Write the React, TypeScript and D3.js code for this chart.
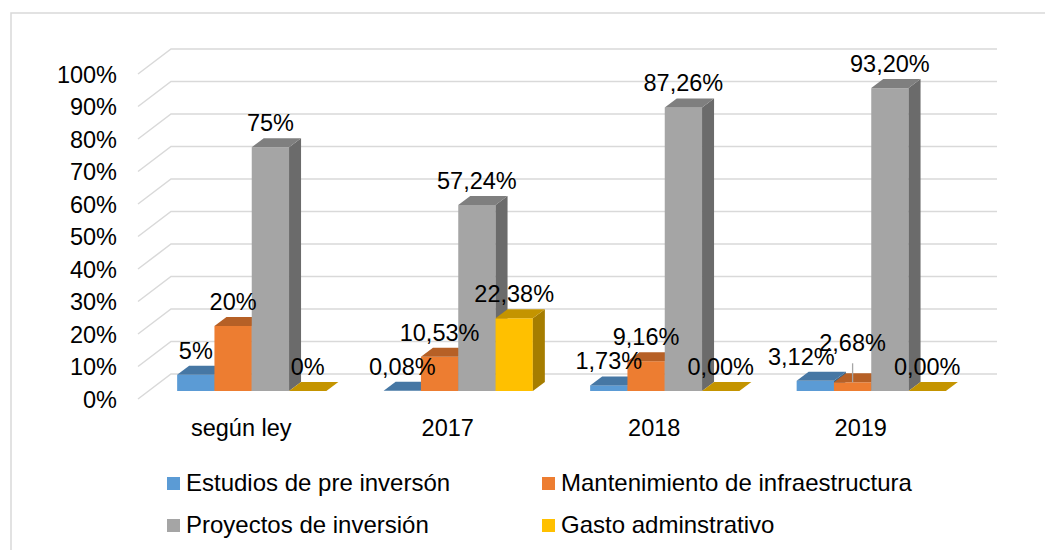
import React from "react";
import * as d3 from "d3";

const categories = ["según ley", "2017", "2018", "2019"];
const seriesNames = [
  "Estudios de pre inversón",
  "Mantenimiento de infraestructura",
  "Proyectos de inversión",
  "Gasto adminstrativo",
];
const estudios = [0.05, 0.0008, 0.0173, 0.0312];
const mantenimiento = [0.2, 0.1053, 0.0916, 0.0268];
const proyectos = [0.75, 0.5724, 0.8726, 0.932];
const gasto = [0, 0.2238, 0, 0];
const yTicks = [0, 0.1, 0.2, 0.3, 0.4, 0.5, 0.6, 0.7, 0.8, 0.9, 1.0];

const seriesValues = [estudios, mantenimiento, proyectos, gasto];
const colors = [
  { front: "#5B9BD5", top: "#4677A4", side: "#3B658A" },
  { front: "#ED7D31", top: "#B66026", side: "#9A5120" },
  { front: "#A5A5A5", top: "#7F7F7F", side: "#6B6B6B" },
  { front: "#FFC000", top: "#C49400", side: "#A67D00" },
];

// manual label adjustments (layout only): key `${series}-${category}`
const labelShift: Record<string, { dx: number; dy: number; leader?: boolean }> = {
  "0-3": { dx: -14, dy: 0 },
  "1-3": { dx: 0, dy: -15, leader: true },
};

const FONT = "'Liberation Sans', Arial, Helvetica, sans-serif";
const FS = 23.5;
const LEG_FS = 24;

const locale = d3.formatLocale({
  decimal: ",",
  thousands: ".",
  grouping: [3],
  currency: ["", ""],
});
const fmtInt = locale.format(".0%");
const fmtDec = locale.format(".2%");

export default function App() {
  const W = 1045;
  const H = 550;
  const x0 = 138;
  const x1 = 964;
  const wallDx = 33;
  const wallDy = -25;
  const barDepthX = 12;
  const barDepthY = 9;
  const offX = (wallDx - barDepthX) / 2;
  const offY = (wallDy + barDepthY) / 2;

  const y = d3.scaleLinear().domain([0, 1]).range([399, 74]);
  const xCat = d3.scaleBand<string>().domain(categories).range([x0, x1]).padding(0);
  const bw = xCat.bandwidth();
  const groupPad = 28.65;
  const xSer = d3
    .scaleBand<number>()
    .domain(d3.range(seriesValues.length))
    .range([groupPad, bw - groupPad])
    .padding(0);
  const barW = xSer.bandwidth();

  const bars: React.ReactNode[] = [];
  const labels: React.ReactNode[] = [];

  categories.forEach((cat, ci) => {
    seriesValues.forEach((vals, si) => {
      const v = vals[ci];
      const xl = (xCat(cat) as number) + (xSer(si) as number) + offX;
      const xr = xl + barW;
      const yb = y(0) + offY;
      const yt = y(v) + offY;
      const c = colors[si];
      const key = `${si}-${ci}`;
      const h = yb - yt;
      if (h > 0.5) {
        bars.push(
          <rect key={key + "f"} x={xl} y={yt} width={barW} height={h} fill={c.front} />
        );
        bars.push(
          <path
            key={key + "s"}
            d={`M${xr},${yt}L${xr + barDepthX},${yt - barDepthY}L${xr + barDepthX},${yb - barDepthY}L${xr},${yb}Z`}
            fill={c.side}
          />
        );
      }
      bars.push(
        <path
          key={key + "t"}
          d={`M${xl},${yt}L${xl + barDepthX},${yt - barDepthY}L${xr + barDepthX},${yt - barDepthY}L${xr},${yt}Z`}
          fill={c.top}
        />
      );
      const sh = labelShift[key] || { dx: 0, dy: 0 };
      const lx = (xl + xr) / 2 + sh.dx;
      const ly = yt - 16 + sh.dy;
      const txt = ci === 0 ? fmtInt(v) : fmtDec(v);
      if (sh.leader) {
        labels.push(
          <line
            key={key + "ld"}
            x1={(xl + xr) / 2}
            x2={(xl + xr) / 2}
            y1={ly + 12}
            y2={yt}
            stroke="#A6A6A6"
            strokeWidth={1.3}
          />
        );
      }
      labels.push(
        <text key={key + "l"} x={lx} y={ly} textAnchor="middle" fontSize={FS} fill="#000">
          {txt}
        </text>
      );
    });
  });

  const legendPos = [
    { x: 167, y: 477 },
    { x: 542, y: 477 },
    { x: 167, y: 519 },
    { x: 542, y: 519 },
  ];

  return (
    <svg
      width={W}
      height={H}
      style={{ position: "absolute", left: 0, top: 0, display: "block", background: "#fff" }}
      fontFamily={FONT}
    >
      <rect x={0} y={0} width={W} height={H} fill="#fff" />
      <rect x={11} y={13} width={1200} height={700} fill="none" stroke="#D9D9D9" strokeWidth={1.5} />
      {yTicks.map((t) => {
        const yf = y(t);
        return (
          <g key={t}>
            <path
              d={`M${x0},${yf}L${x0 + wallDx},${yf + wallDy}L${x1 + wallDx},${yf + wallDy}`}
              fill="none"
              stroke="#D9D9D9"
              strokeWidth={1.5}
            />
            <text x={117} y={yf + 8.5} textAnchor="end" fontSize={FS} fill="#000">
              {fmtInt(t)}
            </text>
          </g>
        );
      })}
      {bars}
      {labels}
      {categories.map((cat) => (
        <text
          key={cat}
          x={(xCat(cat) as number) + bw / 2}
          y={436}
          textAnchor="middle"
          fontSize={FS}
          fill="#000"
        >
          {cat}
        </text>
      ))}
      {seriesNames.map((name, i) => (
        <g key={name}>
          <rect x={legendPos[i].x} y={legendPos[i].y} width={13} height={13} fill={colors[i].front} />
          <text x={legendPos[i].x + 19} y={legendPos[i].y + 14} fontSize={LEG_FS} fill="#000">
            {name}
          </text>
        </g>
      ))}
    </svg>
  );
}
